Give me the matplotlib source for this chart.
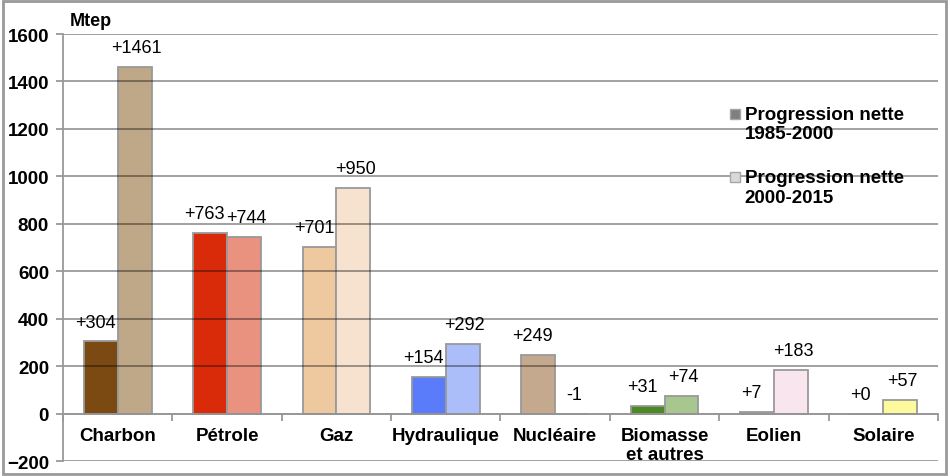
import matplotlib
matplotlib.use('Agg')

import numpy as np
import matplotlib.pyplot as plt
from matplotlib.patches import Rectangle

plt.rcParams['font.family'] = ['Liberation Sans', 'DejaVu Sans']

# Data (Mtep)
categories = ['Charbon', 'Pétrole', 'Gaz', 'Hydraulique', 'Nucléaire',
              'Biomasse\net autres', 'Eolien', 'Solaire']
prog_1985_2000 = [304, 763, 701, 154, 249, 31, 7, 0]
prog_2000_2015 = [1461, 744, 950, 292, -1, 74, 183, 57]
series_names = ['Progression nette\n1985-2000', 'Progression nette\n2000-2015']

# Colours per category (dark = 1985-2000, light = 2000-2015)
colors_1 = ['#7B4A12', '#D92B0A', '#EEC9A0', '#5A7CFA', '#C4A98E',
            '#4B8A23', '#E4B8CC', '#E8DC60']
colors_2 = ['#BFA888', '#EA9280', '#F6E2CE', '#ABBEFA', '#DDD0C2',
            '#A8C78E', '#F8E5EE', '#FDFA9E']

edge = '#999999'
x = np.arange(len(categories))
w = 0.31

fig = plt.figure(figsize=(9.5, 4.77), dpi=100)
ax = fig.add_axes([0.0663, 0.0314, 0.921, 0.8952])

b1 = ax.bar(x - w / 2, prog_1985_2000, w, color=colors_1, edgecolor=edge,
            linewidth=1.3, zorder=2)
b2 = ax.bar(x + w / 2, prog_2000_2015, w, color=colors_2, edgecolor=edge,
            linewidth=1.3, zorder=2)

# value labels (first series nudged left a little, as in the original)
for bars, vals, dx in ((b1, prog_1985_2000, -4), (b2, prog_2000_2015, 1.5)):
    for rect, v in zip(bars, vals):
        txt = '%+d' % v
        ax.annotate(txt, (rect.get_x() + rect.get_width() / 2, max(v, 0)),
                    xytext=(dx, 14), textcoords='offset points',
                    ha='center', va='center', fontsize=13, zorder=4)

ax.set_xlim(-0.5, len(categories) - 0.5)
ax.set_ylim(-200, 1600)
ax.set_yticks(np.arange(-200, 1601, 200))
ax.yaxis.grid(True, color='black', alpha=0.4, linewidth=1.3, zorder=3)
ax.set_axisbelow(False)

# x axis sits on zero
ax.spines['bottom'].set_position(('data', 0))
ax.spines['top'].set_visible(False)
ax.spines['right'].set_visible(False)
for s in ('left', 'bottom'):
    ax.spines[s].set_color(edge)
    ax.spines[s].set_linewidth(1.3)
    ax.spines[s].set_zorder(3)

ax.set_xticks(x)
ax.set_xticklabels(categories, fontsize=13.5, fontweight='bold', va='top',
                   linespacing=1.1)
ax.set_xticks(np.arange(len(categories) + 1) - 0.5, minor=True)
ax.tick_params(axis='x', which='major', length=0, pad=10)
ax.tick_params(axis='x', which='minor', length=5, color=edge, width=1.3)
ax.tick_params(axis='y', length=5, color=edge, width=1.3, pad=5,
               labelsize=13.5)
for lab in ax.get_yticklabels():
    lab.set_fontweight('bold')

ax.text(0.008, 1.012, 'Mtep', transform=ax.transAxes, fontsize=13,
        fontweight='bold', va='bottom', ha='left')

# legend (drawn by hand so the marker sits on the first line)
leg_y = [0.832, 0.684]
leg_colors = ['#7F7F7F', '#D9D9D9']
for yy, name, c in zip(leg_y, series_names, leg_colors):
    ax.plot([0.768], [yy - 0.02], marker='s', markersize=7, color=c,
            markeredgecolor='#A6A6A6', markeredgewidth=1,
            transform=ax.transAxes, clip_on=False, zorder=5)
    ax.text(0.779, yy, name, transform=ax.transAxes, fontsize=13.5,
            fontweight='bold', va='top', ha='left', linespacing=1.2,
            zorder=5)

# outer frame
fig.patches.append(Rectangle((0.003, 0.005), 0.993, 0.99,
                             transform=fig.transFigure, fill=False,
                             edgecolor=edge, linewidth=2))

fig.savefig('out.png', dpi=100)
